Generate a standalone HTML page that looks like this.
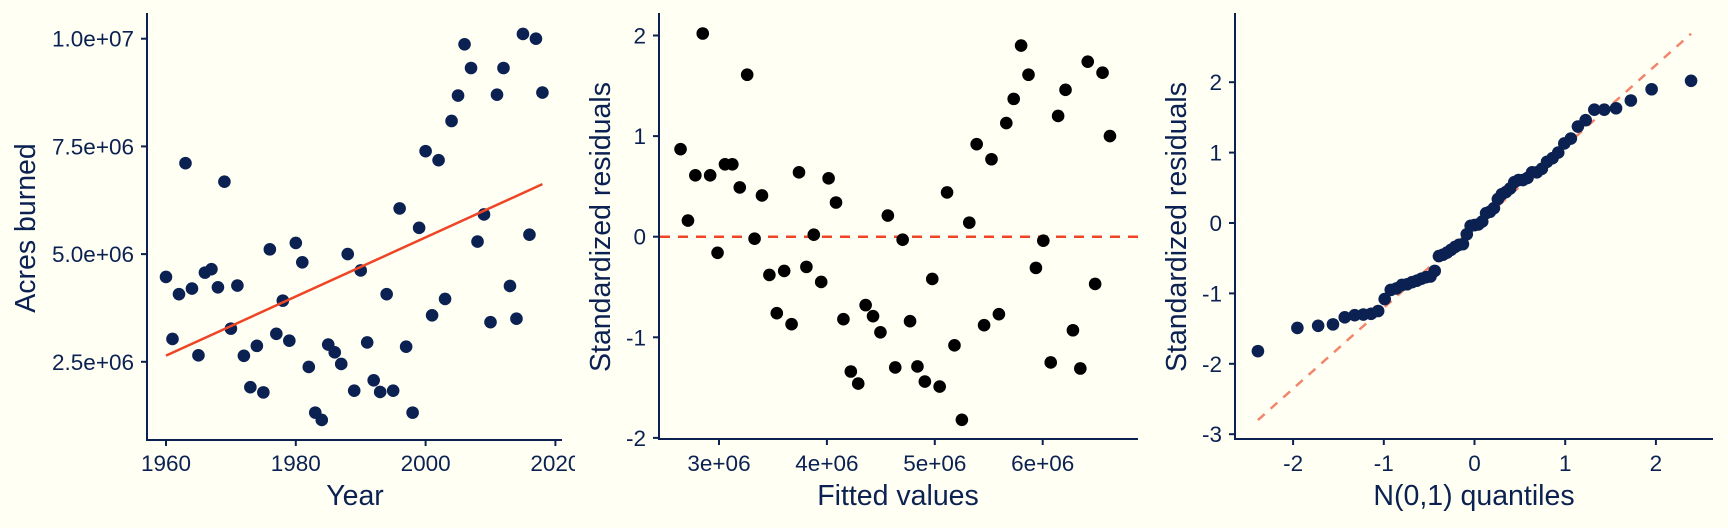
<!DOCTYPE html>
<html><head><meta charset="utf-8"><style>
html,body{margin:0;padding:0;background:#fffff3;}
svg{display:block;font-family:"Liberation Sans",Arial,sans-serif;}
</style></head><body>
<svg id="c" width="1728" height="528" viewBox="0 0 1728 528" xmlns="http://www.w3.org/2000/svg">
<defs><clipPath id="clip1"><rect x="0" y="0" width="575" height="528"/></clipPath></defs>
<rect width="1728" height="528" fill="#fffff3"/>
</svg>
<script>
// Panel 1 data
const years = [];
for (let y = 1960; y <= 2018; y++) years.push(y);
const acresMillions = [4.47,3.03,4.07,7.11,4.20,2.65,4.57,4.65,4.23,6.68,3.27,4.27,2.64,1.91,2.87,1.79,5.11,3.15,3.92,2.99,5.26,4.81,2.38,1.32,1.15,2.90,2.72,2.45,5.00,1.83,4.62,2.95,2.07,1.80,4.07,1.83,6.06,2.85,1.32,5.61,7.39,3.58,7.18,3.96,8.09,8.68,9.87,9.32,5.29,5.92,3.42,8.70,9.32,4.26,3.50,10.11,5.45,10.00,8.75];
const p1YTicks = [2.5e6,5e6,7.5e6,1e7];
const p1YLabels = ["2.5e+06","5.0e+06","7.5e+06","1.0e+07"];
const p1XTicks = [1960,1980,2000,2020];
// Panel 2 data
const stdResiduals = [0.87,0.16,0.61,2.02,0.61,-0.16,0.72,0.72,0.49,1.61,-0.02,0.41,-0.38,-0.76,-0.34,-0.87,0.64,-0.30,0.02,-0.45,0.58,0.34,-0.82,-1.34,-1.46,-0.68,-0.79,-0.95,0.21,-1.30,-0.03,-0.84,-1.29,-1.44,-0.42,-1.49,0.44,-1.08,-1.82,0.14,0.92,-0.88,0.77,-0.77,1.13,1.37,1.90,1.61,-0.31,-0.04,-1.25,1.20,1.46,-0.93,-1.31,1.74,-0.47,1.63,1.00];
const p2XTicks = [3e6,4e6,5e6,6e6];
const p2XLabels = ["3e+06","4e+06","5e+06","6e+06"];
const p2YTicks = [-2,-1,0,1,2];
// Panel 3
const p3XTicks = [-2,-1,0,1,2];
const p3YTicks = [-3,-2,-1,0,1,2];

const NS = "http://www.w3.org/2000/svg";
const svg = document.getElementById('c');
const NAVY = "#0b2152";
const TICK = 22.5, TITLE = 28.5;
function el(tag, attrs, parent) {
  const e = document.createElementNS(NS, tag);
  for (const k in attrs) e.setAttribute(k, attrs[k]);
  (parent || svg).appendChild(e);
  return e;
}
function txt(s, x, y, size, anchor, parent, rot) {
  const t = el('text', {x:x, y:y, 'font-size':size, fill:NAVY, 'text-anchor':anchor}, parent);
  if (rot) t.setAttribute('transform', 'rotate(-90 ' + x + ' ' + y + ')');
  t.textContent = s;
  return t;
}

// ---------- Panel 1 ----------
const g1 = el('g', {'clip-path':'url(#clip1)'});


const x1 = yr => 166 + (yr - 1960) * 6.49;
const y1 = v => 38.7 + (1e7 - v) / 2.5e6 * 107.7;
let a1 = el('line', {x1:147, y1:13, x2:147, y2:440, stroke:NAVY, 'stroke-width':2}, g1);


a1 = el('line', {x1:146, y1:440, x2:562, y2:440, stroke:NAVY, 'stroke-width':2}, g1);


p1YTicks.forEach((v, i) => {
  const y = y1(v);
  el('line', {x1:141, y1:y, x2:147, y2:y, stroke:NAVY, 'stroke-width':2}, g1);
  const t = txt(p1YLabels[i], 134, y + 8, TICK, 'end', g1);
  
  
});
p1XTicks.forEach(v => {
  const x = x1(v);
  el('line', {x1:x, y1:440, x2:x, y2:446, stroke:NAVY, 'stroke-width':2}, g1);
  const t = txt(String(v), x, 471, TICK, 'middle', g1);
  
  
});
let t1 = txt('Year', 355, 505, TITLE, 'middle', g1);


t1 = txt('Acres burned', 35, 228, TITLE, 'middle', g1, true);


// regression
const n = years.length;
const vals = acresMillions.map(v => v * 1e6);
const mx = years.reduce((a,b)=>a+b,0)/n, my = vals.reduce((a,b)=>a+b,0)/n;
let sxy = 0, sxx = 0;
for (let i = 0; i < n; i++) { sxy += (years[i]-mx)*(vals[i]-my); sxx += (years[i]-mx)**2; }
const slope = sxy / sxx, icpt = my - slope * mx;
const yrMin = years[0], yrMax = years[n-1];
years.forEach((yr, i) => {
  const c = el('circle', {cx:x1(yr), cy:y1(vals[i]), r:6.3, fill:NAVY}, g1);
  
  
});
const fitLine = el('line', {x1:x1(yrMin), y1:y1(icpt + slope*yrMin), x2:x1(yrMax), y2:y1(icpt + slope*yrMax), stroke:"#ee4526", 'stroke-width':2.5}, g1);



// ---------- Panel 2 ----------
const g2 = el('g', {});


const x2 = v => 719 + (v - 3e6) / 1e6 * 107.9;
const y2 = r => 236.7 - r * 100.6;
let a2 = el('line', {x1:659, y1:13, x2:659, y2:439, stroke:NAVY, 'stroke-width':2}, g2);


a2 = el('line', {x1:658, y1:439, x2:1138, y2:439, stroke:NAVY, 'stroke-width':2}, g2);


p2YTicks.forEach(v => {
  const y = y2(v);
  el('line', {x1:653, y1:y, x2:659, y2:y, stroke:NAVY, 'stroke-width':2}, g2);
  const t = txt(String(v), 646, y + 8, TICK, 'end', g2);
  
  
});
p2XTicks.forEach((v, i) => {
  const x = x2(v);
  el('line', {x1:x, y1:439, x2:x, y2:445, stroke:NAVY, 'stroke-width':2}, g2);
  const t = txt(p2XLabels[i], x, 471, TICK, 'middle', g2);
  
  
});
let t2 = txt('Fitted values', 898, 505, TITLE, 'middle', g2);


t2 = txt('Standardized residuals', 610, 227, TITLE, 'middle', g2, true);


const zl = el('line', {x1:660, y1:y2(0), x2:1138, y2:y2(0), stroke:"#ee4526", 'stroke-width':2.5, 'stroke-dasharray':'10 8'}, g2);


years.forEach((yr, i) => {
  const f = icpt + slope * yr;
  const c = el('circle', {cx:x2(f), cy:y2(stdResiduals[i]), r:6.3, fill:"#000"}, g2);
  
  
});

// ---------- Panel 3 ----------
const g3 = el('g', {});


const x3 = q => 1474.5 + q * 90.7;
const y3 = r => 223 - r * 70.4;
let a3 = el('line', {x1:1235, y1:13, x2:1235, y2:439, stroke:NAVY, 'stroke-width':2}, g3);


a3 = el('line', {x1:1234, y1:439, x2:1713, y2:439, stroke:NAVY, 'stroke-width':2}, g3);


p3YTicks.forEach(v => {
  const y = y3(v);
  el('line', {x1:1229, y1:y, x2:1235, y2:y, stroke:NAVY, 'stroke-width':2}, g3);
  const t = txt(String(v), 1222, y + 8, TICK, 'end', g3);
  
  
});
p3XTicks.forEach(v => {
  const x = x3(v);
  el('line', {x1:x, y1:439, x2:x, y2:445, stroke:NAVY, 'stroke-width':2}, g3);
  const t = txt(String(v), x, 471, TICK, 'middle', g3);
  
  
});
let t3 = txt('N(0,1) quantiles', 1474, 505, TITLE, 'middle', g3);


t3 = txt('Standardized residuals', 1186, 227, TITLE, 'middle', g3, true);


function qnorm(p) {
  const a=[-39.69683028665376,220.9460984245205,-275.9285104469687,138.3577518672690,-30.66479806614716,2.506628277459239];
  const b=[-54.47609879822406,161.5858368580409,-155.6989798598866,66.80131188771972,-13.28068155288572];
  const c=[-0.007784894002430293,-0.3223964580411365,-2.400758277161838,-2.549732539343734,4.374664141464968,2.938163982698783];
  const d=[0.007784695709041462,0.3224671290700398,2.445134137142996,3.754408661907416];
  const pl=0.02425;
  if (p < pl) { const q=Math.sqrt(-2*Math.log(p)); return (((((c[0]*q+c[1])*q+c[2])*q+c[3])*q+c[4])*q+c[5])/((((d[0]*q+d[1])*q+d[2])*q+d[3])*q+1); }
  if (p > 1-pl) { const q=Math.sqrt(-2*Math.log(1-p)); return -(((((c[0]*q+c[1])*q+c[2])*q+c[3])*q+c[4])*q+c[5])/((((d[0]*q+d[1])*q+d[2])*q+d[3])*q+1); }
  const q=p-0.5, r=q*q;
  return (((((a[0]*r+a[1])*r+a[2])*r+a[3])*r+a[4])*r+a[5])*q/(((((b[0]*r+b[1])*r+b[2])*r+b[3])*r+b[4])*r+1);
}
const sorted = stdResiduals.slice().sort((a,b)=>a-b);
const m = sorted.length;
const aOff = m <= 10 ? 0.375 : 0.5;
const theo = sorted.map((_, i) => qnorm((i + 1 - aOff) / (m + 1 - 2*aOff)));
function quant(arr, p) { const h=(arr.length-1)*p, lo=Math.floor(h); return arr[lo] + (h-lo)*(arr[Math.min(lo+1,arr.length-1)]-arr[lo]); }
const qy1 = quant(sorted,0.25), qy2 = quant(sorted,0.75);
const qx1 = qnorm(0.25), qx2 = qnorm(0.75);
const qs = (qy2-qy1)/(qx2-qx1), qi = qy1 - qs*qx1;
const tmin = theo[0], tmax = theo[m-1];
const ql = el('line', {x1:x3(tmin), y1:y3(qi+qs*tmin), x2:x3(tmax), y2:y3(qi+qs*tmax), stroke:"#f2866c", 'stroke-width':2.5, 'stroke-dasharray':'9 8'}, g3);


sorted.forEach((r, i) => {
  const c = el('circle', {cx:x3(theo[i]), cy:y3(r), r:6.3, fill:NAVY}, g3);
  
  
});
</script>
</body></html>
